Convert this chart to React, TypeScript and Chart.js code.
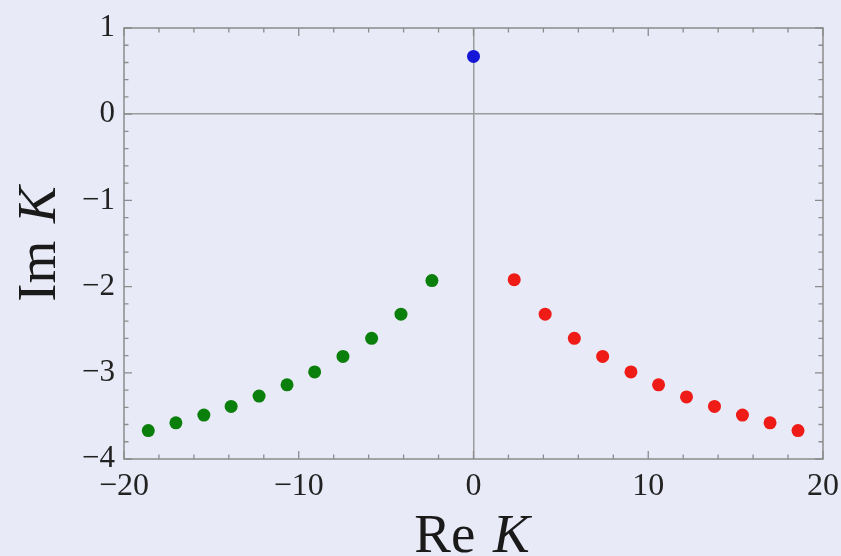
import React, { useEffect, useRef } from "react";
import { Chart, registerables } from "chart.js";

Chart.register(...registerables);

// Data
const blueRe = [0];
const blueIm = [0.67];

const greenRe = [-18.61, -17.03, -15.43, -13.87, -12.27, -10.67, -9.09, -7.47, -5.83, -4.15, -2.38];
const greenIm = [-3.67, -3.58, -3.49, -3.39, -3.27, -3.14, -2.99, -2.81, -2.6, -2.32, -1.93];

const redRe = [2.33, 4.1, 5.77, 7.39, 9.01, 10.59, 12.19, 13.79, 15.39, 16.97, 18.57];
const redIm = [-1.92, -2.32, -2.6, -2.81, -2.99, -3.14, -3.28, -3.39, -3.49, -3.58, -3.67];

const xRange = [-20, 20];
const yRange = [-4, 1];
const xMajorStep = 10;
const xMinorStep = 2;
const yMajorStep = 1;
const yMinorStep = 0.2;

const xTitle = ["Re ", "K"];
const yTitle = ["Im ", "K"];

const BG = "#e9eaf7";
const FRAME = "#8c8c8c";
const SERIF = "'Liberation Serif', 'DejaVu Serif', serif";

const toPts = (xs: number[], ys: number[]) => xs.map((x, i) => ({ x, y: ys[i] }));
const fmt = (v: number) => String(v).replace("-", "\u2212");

const framePlugin = {
  id: "frameTicks",
  beforeDraw(chart: any) {
    const { ctx, width, height } = chart;
    ctx.save();
    ctx.fillStyle = BG;
    ctx.fillRect(0, 0, width, height);
    ctx.restore();
  },
  afterDraw(chart: any) {
    const { ctx, chartArea: a, scales } = chart;
    const xs = scales.x;
    const ys = scales.y;
    ctx.save();
    ctx.strokeStyle = FRAME;
    ctx.lineWidth = 1.3;
    // ticks
    const nx = Math.round((xRange[1] - xRange[0]) / xMinorStep);
    for (let i = 0; i <= nx; i++) {
      const v = xRange[0] + i * xMinorStep;
      const major = Math.abs(v / xMajorStep - Math.round(v / xMajorStep)) < 1e-6;
      const len = major ? 8 : 4.5;
      const px = xs.getPixelForValue(v);
      ctx.beginPath();
      ctx.moveTo(px, a.bottom);
      ctx.lineTo(px, a.bottom - len);
      ctx.moveTo(px, a.top);
      ctx.lineTo(px, a.top + len);
      ctx.stroke();
    }
    const ny = Math.round((yRange[1] - yRange[0]) / yMinorStep);
    for (let i = 0; i <= ny; i++) {
      const v = yRange[0] + i * yMinorStep;
      const major = Math.abs(v / yMajorStep - Math.round(v / yMajorStep)) < 1e-6;
      const len = major ? 8 : 4.5;
      const py = ys.getPixelForValue(v);
      ctx.beginPath();
      ctx.moveTo(a.left, py);
      ctx.lineTo(a.left + len, py);
      ctx.moveTo(a.right, py);
      ctx.lineTo(a.right - len, py);
      ctx.stroke();
    }
    // frame
    ctx.lineWidth = 1.5;
    ctx.strokeRect(a.left, a.top, a.right - a.left, a.bottom - a.top);

    // axis titles
    ctx.fillStyle = "#1a1a1a";
    ctx.textBaseline = "alphabetic";
    const normal = `55px ${SERIF}`;
    const italic = `italic 55px ${SERIF}`;
    const gap = 4;
    ctx.font = normal;
    const w1 = ctx.measureText(xTitle[0]).width + gap;
    ctx.font = italic;
    const w2 = ctx.measureText(xTitle[1]).width;
    const cx = 472;
    let sx = cx - (w1 + w2) / 2;
    ctx.font = normal;
    ctx.fillText(xTitle[0], sx, 552);
    ctx.font = italic;
    ctx.fillText(xTitle[1], sx + w1, 552);

    ctx.save();
    ctx.translate(55, 244);
    ctx.rotate(-Math.PI / 2);
    ctx.font = normal;
    const v1 = ctx.measureText(yTitle[0]).width + gap;
    ctx.font = italic;
    const v2 = ctx.measureText(yTitle[1]).width;
    sx = -(v1 + v2) / 2;
    ctx.font = normal;
    ctx.fillText(yTitle[0], sx, 0);
    ctx.font = italic;
    ctx.fillText(yTitle[1], sx + v1, 0);
    ctx.restore();

    ctx.restore();
  },
};

export default function App() {
  const ref = useRef<HTMLCanvasElement | null>(null);

  useEffect(() => {
    if (!ref.current) return;
    const zeroGrid = (c: any) => (c.tick && c.tick.value === 0 ? "#9c9c9c" : "rgba(0,0,0,0)");
    const chart = new Chart(ref.current, {
      type: "scatter",
      data: {
        datasets: [
          {
            label: "blue",
            data: toPts(blueRe, blueIm),
            backgroundColor: "#1616d6",
            borderColor: "#1616d6",
            pointRadius: 6.5,
            borderWidth: 0,
          },
          {
            label: "green",
            data: toPts(greenRe, greenIm),
            backgroundColor: "#0b7f0b",
            borderColor: "#0b7f0b",
            pointRadius: 6.5,
            borderWidth: 0,
          },
          {
            label: "red",
            data: toPts(redRe, redIm),
            backgroundColor: "#ee1b17",
            borderColor: "#ee1b17",
            pointRadius: 6.5,
            borderWidth: 0,
          },
        ],
      },
      options: {
        animation: false,
        responsive: false,
        maintainAspectRatio: false,
        layout: { padding: { top: 28, right: 18, left: 0, bottom: 0 } },
        plugins: {
          legend: { display: false },
          tooltip: { enabled: false },
          title: { display: false },
        },
        scales: {
          x: {
            type: "linear",
            min: xRange[0],
            max: xRange[1],
            afterFit: (s: any) => {
              s.height = 97;
              s.paddingLeft = 0;
              s.paddingRight = 0;
            },
            ticks: {
              stepSize: xMajorStep,
              padding: 8,
              color: "#222",
              font: { family: SERIF, size: 32 },
              callback: (v: any) => fmt(Number(v)),
              maxRotation: 0,
            },
            grid: { color: zeroGrid, lineWidth: 1.5, drawTicks: false },
            border: { display: false },
          },
          y: {
            type: "linear",
            min: yRange[0],
            max: yRange[1],
            afterFit: (s: any) => {
              s.width = 124;
              s.paddingTop = 0;
              s.paddingBottom = 0;
            },
            ticks: {
              stepSize: yMajorStep,
              padding: 9,
              color: "#222",
              font: { family: SERIF, size: 31 },
              callback: (v: any) => fmt(Number(v)),
            },
            grid: { color: zeroGrid, lineWidth: 1.5, drawTicks: false },
            border: { display: false },
          },
        },
      },
      plugins: [framePlugin],
    } as any);
    return () => chart.destroy();
  }, []);

  return (
    <div
      style={{
        position: "fixed",
        left: 0,
        top: 0,
        width: 841,
        height: 556,
        background: BG,
      }}
    >
      <canvas ref={ref} width={841} height={556} style={{ display: "block" }} />
    </div>
  );
}
